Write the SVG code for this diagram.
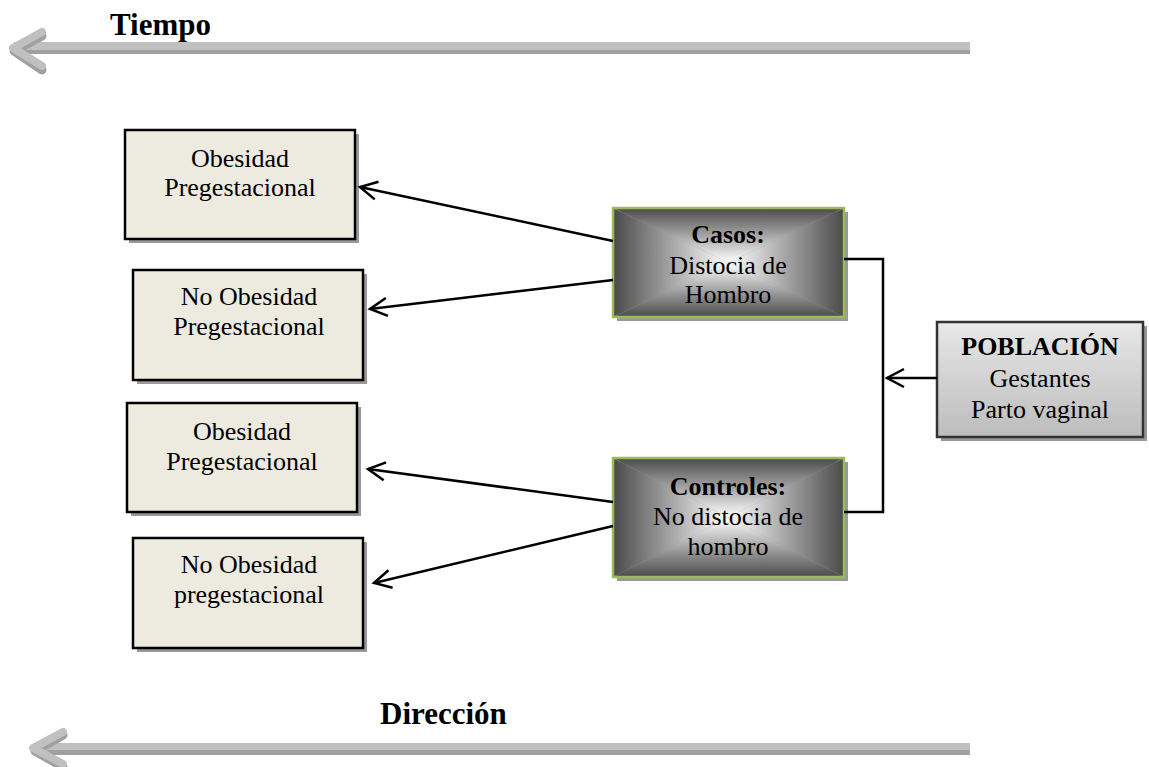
<svg xmlns="http://www.w3.org/2000/svg" width="1149" height="767" viewBox="0 0 1149 767">
<style>
.t{font-family:"Liberation Serif","Times New Roman",serif;font-size:26px;fill:#000;text-anchor:middle}
.b{font-weight:bold}
.big{font-family:"Liberation Serif","Times New Roman",serif;font-size:31px;font-weight:bold;fill:#000}
.beige{fill:#EDEAE0;stroke:#000;stroke-width:2.5}
.shadow{fill:#999}
.green{fill:none;stroke:#9BBB59;stroke-width:2.5}
.conn{fill:none;stroke:#000;stroke-width:2.5}
.shaftL{fill:#C0C0C0}
.shaftD{fill:#A0A0A0}
</style>
<defs>
<linearGradient id="gTop" x1="0" y1="0" x2="0" y2="1"><stop offset="0" stop-color="#4a4a4a"/><stop offset="1" stop-color="#ffffff"/></linearGradient>
<linearGradient id="gBot" x1="0" y1="1" x2="0" y2="0"><stop offset="0" stop-color="#4a4a4a"/><stop offset="1" stop-color="#ffffff"/></linearGradient>
<linearGradient id="gLeft" x1="0" y1="0" x2="1" y2="0"><stop offset="0" stop-color="#4a4a4a"/><stop offset="1" stop-color="#ffffff"/></linearGradient>
<linearGradient id="gRight" x1="1" y1="0" x2="0" y2="0"><stop offset="0" stop-color="#4a4a4a"/><stop offset="1" stop-color="#ffffff"/></linearGradient>
<linearGradient id="gPob" x1="0" y1="0" x2="0" y2="1"><stop offset="0" stop-color="#e8e8e8"/><stop offset="1" stop-color="#bcbcbc"/></linearGradient>
<marker id="open" markerUnits="userSpaceOnUse" markerWidth="40" markerHeight="40" viewBox="-20 -20 40 40" refX="0" refY="0" orient="auto">
<path d="M -17 -9 L 0 0 L -17 9" fill="none" stroke="#000" stroke-width="2.5"/>
</marker>
</defs>

<g id="time-arrow">
<rect class="shaftL" x="14" y="42" width="956" height="8"/>
<rect class="shaftD" x="14" y="50" width="956" height="4"/>
<polyline points="42,36 14,51 42,70" fill="none" stroke="#A0A0A0" stroke-width="9" stroke-linecap="round" stroke-linejoin="round"/>
<polyline points="42,32 13,48 42,66" fill="none" stroke="#C0C0C0" stroke-width="8" stroke-linecap="round" stroke-linejoin="round"/>
<text class="big" x="110" y="35">Tiempo</text>
</g>

<g id="direction-arrow">
<rect class="shaftL" x="34" y="743" width="936" height="7"/>
<rect class="shaftD" x="34" y="750" width="936" height="5"/>
<polyline points="63,735 35,751 63,767" fill="none" stroke="#A0A0A0" stroke-width="9" stroke-linecap="round" stroke-linejoin="round"/>
<polyline points="63,732 33,748 63,764" fill="none" stroke="#C0C0C0" stroke-width="8" stroke-linecap="round" stroke-linejoin="round"/>
<text class="big" x="380" y="724">Dirección</text>
</g>

<g id="box-obesidad-1">
<rect class="shadow" x="129" y="134" width="230" height="109"/>
<rect class="beige" x="125" y="130" width="230" height="109"/>
<text class="t" x="240" y="167">Obesidad</text>
<text class="t" x="240" y="196">Pregestacional</text>
</g>

<g id="box-no-obesidad-1">
<rect class="shadow" x="137" y="274" width="230" height="110"/>
<rect class="beige" x="133" y="270" width="230" height="110"/>
<text class="t" x="249" y="305">No Obesidad</text>
<text class="t" x="249" y="335">Pregestacional</text>
</g>

<g id="box-obesidad-2">
<rect class="shadow" x="131" y="407" width="230" height="109"/>
<rect class="beige" x="127" y="403" width="230" height="109"/>
<text class="t" x="242" y="440">Obesidad</text>
<text class="t" x="242" y="470">Pregestacional</text>
</g>

<g id="box-no-obesidad-2">
<rect class="shadow" x="137" y="542" width="230" height="110"/>
<rect class="beige" x="133" y="538" width="230" height="110"/>
<text class="t" x="249" y="573">No Obesidad</text>
<text class="t" x="249" y="603">pregestacional</text>
</g>

<g id="box-casos">
<rect class="shadow" x="617" y="212" width="231" height="109"/>
<polygon points="613,208 844,208 728.5,262.5" fill="url(#gTop)"/>
<polygon points="613,317 844,317 728.5,262.5" fill="url(#gBot)"/>
<polygon points="613,208 613,317 728.5,262.5" fill="url(#gLeft)"/>
<polygon points="844,208 844,317 728.5,262.5" fill="url(#gRight)"/>
<rect class="green" x="613" y="208" width="231" height="109"/>
<text class="t b" x="728" y="243">Casos:</text>
<text class="t" x="728" y="274">Distocia de</text>
<text class="t" x="728" y="303">Hombro</text>
</g>

<g id="box-controles">
<rect class="shadow" x="617" y="462" width="231" height="119"/>
<polygon points="613,458 844,458 728.5,517.5" fill="url(#gTop)"/>
<polygon points="613,577 844,577 728.5,517.5" fill="url(#gBot)"/>
<polygon points="613,458 613,577 728.5,517.5" fill="url(#gLeft)"/>
<polygon points="844,458 844,577 728.5,517.5" fill="url(#gRight)"/>
<rect class="green" x="613" y="458" width="231" height="119"/>
<text class="t b" x="728" y="495">Controles:</text>
<text class="t" x="728" y="525">No distocia de</text>
<text class="t" x="728" y="555">hombro</text>
</g>

<g id="box-poblacion">
<rect class="shadow" x="941" y="326" width="206" height="115"/>
<rect x="937" y="322" width="206" height="115" fill="url(#gPob)" stroke="#333" stroke-width="2.5"/>
<text class="t b" x="1040" y="355">POBLACIÓN</text>
<text class="t" x="1040" y="387">Gestantes</text>
<text class="t" x="1040" y="418">Parto vaginal</text>
</g>

<g id="connectors">
<line class="conn" x1="613" y1="241" x2="360" y2="187" marker-end="url(#open)"/>
<line class="conn" x1="613" y1="280" x2="370" y2="309" marker-end="url(#open)"/>
<line class="conn" x1="613" y1="502" x2="368" y2="469" marker-end="url(#open)"/>
<line class="conn" x1="613" y1="526" x2="374" y2="583" marker-end="url(#open)"/>
<polyline class="conn" points="844,259 883,259 883,512 844,512"/>
<line class="conn" x1="937" y1="378" x2="887" y2="378" marker-end="url(#open)"/>
</g>
</svg>
